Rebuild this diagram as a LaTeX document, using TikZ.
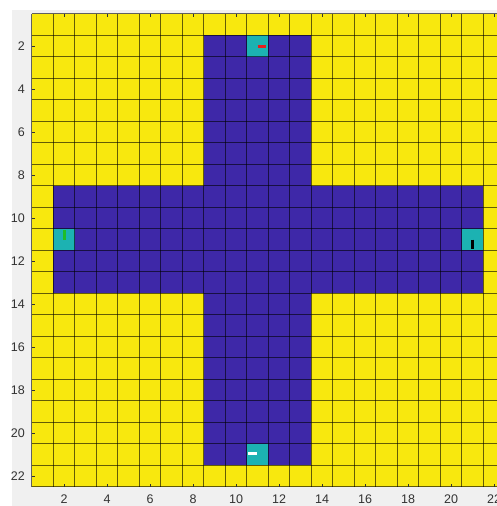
\documentclass[tikz,border=0pt]{standalone}
\usepackage{fontspec}
\setmainfont{Liberation Sans}
\definecolor{pyel}{RGB}{248,232,14}
\definecolor{pblue}{RGB}{62,40,168}
\definecolor{pcyan}{RGB}{28,178,178}
\definecolor{figgray}{RGB}{240,240,240}
\definecolor{ticktext}{RGB}{50,50,50}
\definecolor{mgreen}{RGB}{30,190,40}
\definecolor{mred}{RGB}{230,30,30}
\tikzset{
  gridline/.style={black,opacity=0.6,line width=0.9pt},
  tickmark/.style={ticktext,line width=0.6pt},
  ticklabel/.style={ticktext,inner sep=0pt,font=\fontsize{12.5}{14}\selectfont},
  marker/.style={line width=3pt},
}
\begin{document}
\begin{tikzpicture}[x=1pt,y=-1pt]
\useasboundingbox (0,0) rectangle (497,506);
\clip (0,0) rectangle (497,506);
\fill[white] (0,0) rectangle (497,506);
\fill[figgray] (12,10) rectangle (497,506);
\begin{scope}[shift={(31.75,13.75)},x=21.5pt,y=-21.5pt]
  % field
  \fill[pyel] (0,0) rectangle (22,22);
  \fill[pblue] (8,1) rectangle (13,21);
  \fill[pblue] (1,8) rectangle (21,13);
  % cyan cells
  \fill[pcyan] (10,1) rectangle (11,2);
  \fill[pcyan] (1,10) rectangle (2,11);
  \fill[pcyan] (20,10) rectangle (21,11);
  \fill[pcyan] (10,20) rectangle (11,21);
  % grid
  \foreach \i in {0,...,22} {
    \draw[gridline] (\i,0) -- (\i,22);
    \draw[gridline] (0,\i) -- (22,\i);
  }
  % markers
  \draw[marker,mred] (10.5,1.52) -- (10.9,1.52);
  \draw[marker,mgreen] (1.53,10.08) -- (1.53,10.5);
  \draw[marker,black] (20.5,10.5) -- (20.5,10.93);
  \draw[marker,white] (10.07,20.47) -- (10.48,20.47);
  % ticks and labels
  \foreach \i in {2,4,...,22} {
    \draw[tickmark] (\i-0.5,0) -- (\i-0.5,0.15);
    \draw[tickmark] (\i-0.5,22) -- (\i-0.5,21.85);
    \draw[tickmark] (0,\i-0.5) -- (0.15,\i-0.5);
    \node[ticklabel,anchor=east] at (-0.31,\i-0.5) {\i};
    \node[ticklabel,anchor=north] at (\i-0.5,22.36) {\i};
  }
\end{scope}
\end{tikzpicture}
\end{document}
